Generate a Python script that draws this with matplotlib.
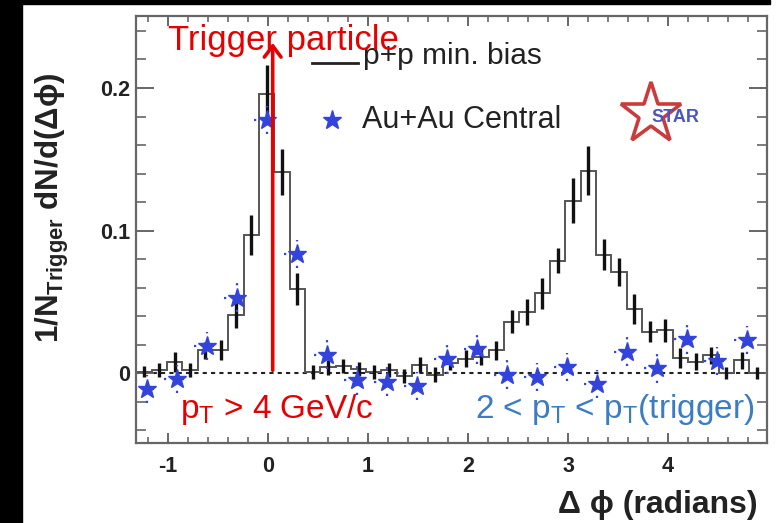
import matplotlib.pyplot as plt
import numpy as np
from matplotlib.patches import Rectangle
from matplotlib.ticker import MultipleLocator, FuncFormatter

plt.rcParams['font.family'] = ['Liberation Sans', 'DejaVu Sans']
plt.rcParams['mathtext.fontset'] = 'custom'
plt.rcParams['mathtext.rm'] = 'Liberation Sans'
plt.rcParams['mathtext.it'] = 'Liberation Sans:italic'
plt.rcParams['mathtext.bf'] = 'Liberation Sans:bold'

# p+p min. bias histogram: 41 bins over 2 pi
phi_lo = -1.317
n_bins = 41
pp_vals = [0.001, 0.002, 0.008, 0.002, 0.016, 0.016, 0.041, 0.097, 0.196, 0.141,
           0.059, 0.001, 0.004, 0.005, 0.003, 0.001, 0.002, -0.002, 0.006, -0.001,
           0.007, 0.010, 0.0115, 0.016, 0.036, 0.043, 0.056, 0.079, 0.121, 0.142,
           0.083, 0.071, 0.045, 0.029, 0.030, 0.0105, 0.008, 0.0126, 0.000, 0.009,
           0.000]
pp_err = [0.004, 0.005, 0.007, 0.005, 0.006, 0.007, 0.009, 0.014, 0.020, 0.016,
          0.011, 0.005, 0.005, 0.005, 0.005, 0.005, 0.005, 0.005, 0.005, 0.005,
          0.005, 0.006, 0.006, 0.0065, 0.008, 0.009, 0.011, 0.009, 0.016, 0.017,
          0.011, 0.010, 0.0105, 0.0075, 0.008, 0.007, 0.006, 0.006, 0.004, 0.006,
          0.004]

# Au+Au central points
auau_x0 = -1.213
auau_step = 0.3
auau_vals = [-0.011, -0.004, 0.019, 0.053, 0.1775, 0.0835, 0.013, -0.005, -0.006,
             -0.009, 0.0096, 0.0166, -0.001, -0.0026, 0.0044, -0.0077, 0.015,
             0.0033, 0.0236, 0.0084, 0.0232]
auau_xerr = 0.13
auau_yerr = 0.01

trigger_phi = 0.047

W, H = 778, 523
fig = plt.figure(figsize=(W / 100, H / 100), dpi=100)
fig.patches.append(Rectangle((0, 0), 22 / W, 1, transform=fig.transFigure,
                             color='black', zorder=0))
fig.patches.append(Rectangle((0, 1 - 4 / H), 770 / W, 4 / H, transform=fig.transFigure,
                             color='black', zorder=0))

ax = fig.add_axes([136 / W, (H - 443) / H, (767 - 136) / W, (443 - 16) / H])

edges = phi_lo + np.arange(n_bins + 1) * (2 * np.pi / n_bins)
centers = 0.5 * (edges[:-1] + edges[1:])
ax.stairs(pp_vals, edges, color='#555555', lw=1.4, zorder=2)
ax.errorbar(centers, pp_vals, yerr=pp_err, fmt='none', ecolor='#111111',
            elinewidth=2.4, capsize=0, zorder=3)

ax.axhline(0, color='#222222', lw=1.5, ls=(0, (2, 2)), zorder=1)

blue = '#3344dd'
ax_x = auau_x0 + auau_step * np.arange(len(auau_vals))
eb = ax.errorbar(ax_x, auau_vals, xerr=auau_xerr, yerr=auau_yerr, fmt='*',
                 color=blue, ms=14, mec=blue, ecolor=blue, elinewidth=1.6,
                 capsize=0, zorder=4)
for lc in eb[2]:
    lc.set_linestyle((0, (1, 3)))

# trigger arrow
ax.annotate('', xy=(trigger_phi, 0.2316), xytext=(trigger_phi, 0.002),
            arrowprops=dict(arrowstyle='->,head_length=0.4,head_width=0.3',
                            color='#e60000', lw=2.6, mutation_scale=20,
                            shrinkA=0, shrinkB=0), zorder=5)

ax.set_xlim(-1.32, 4.99)
ax.set_ylim(-0.049, 0.2505)
ax.xaxis.set_major_locator(MultipleLocator(1))
ax.xaxis.set_minor_locator(MultipleLocator(0.2))
ax.yaxis.set_major_locator(MultipleLocator(0.1))
ax.yaxis.set_minor_locator(MultipleLocator(0.02))
ax.yaxis.set_major_formatter(FuncFormatter(lambda v, p: '0' if abs(v) < 1e-9 else f'{v:.1f}'))
ax.xaxis.set_major_formatter(FuncFormatter(lambda v, p: f'{v:.0f}'))

ax.tick_params(which='both', direction='in', top=True, right=True, color='#666666')
ax.tick_params(axis='y', which='major', length=13, width=1.4, pad=4)
ax.tick_params(axis='y', which='minor', length=7, width=1.2)
ax.tick_params(axis='x', which='major', length=7, width=1.4, pad=9)
ax.tick_params(axis='x', which='minor', length=4, width=1.2)
for lab in ax.get_xticklabels() + ax.get_yticklabels():
    lab.set_fontweight('bold')
    lab.set_fontsize(15.5)
    lab.set_color('#222222')
for s in ax.spines.values():
    s.set_color('#666666')
    s.set_linewidth(1.6)

# legend drawn by hand
ax.plot([0.279, 0.352], [0.890, 0.890], color='#222222', lw=2, transform=ax.transAxes)
ax.text(0.3597, 0.8876, 'p+p min. bias', transform=ax.transAxes, fontsize=21.5,
        va='baseline', color='#222222')
ax.plot([0.3106], [0.7564], '*', color=blue, ms=14, transform=ax.transAxes)
ax.text(0.358, 0.7377, 'Au+Au Central', transform=ax.transAxes, fontsize=22,
        va='baseline', color='#222222')

# STAR logo
ax.plot([0.816], [0.770], '*', ms=46, mfc='none', mec='#cc3b3b', mew=2.6,
        transform=ax.transAxes)
ax.text(0.855, 0.762, 'STAR', transform=ax.transAxes, fontsize=13, fontweight='bold',
        color='#4a55c0', ha='center', va='center')

ax.text(0.0507, 0.920, 'Trigger particle', transform=ax.transAxes, fontsize=25,
        color='#e60000', va='baseline', zorder=6)
ax.text(0.0697, 0.0585, r'p$_\mathrm{T}$ > 4 GeV/c', transform=ax.transAxes,
        fontsize=24, color='#e60000', va='baseline')
ax.text(0.981, 0.0585, r'2 < p$_\mathrm{T}$ < p$_\mathrm{T}$(trigger)',
        transform=ax.transAxes, fontsize=24, color='#3b7dc4', va='baseline', ha='right')

fig.text(52 / W, 1 - 208 / H, r'$\mathbf{1/N_{Trigger}\ dN/d(\Delta\phi)}$',
         rotation=90, ha='center', va='center', fontsize=22.5, color='#222222')
fig.text(758 / W, 1 - 513 / H, 'Δ ϕ (radians)', ha='right', va='baseline',
         fontsize=23, fontweight='bold', color='#222222')

fig.savefig('out.png', dpi=100)
